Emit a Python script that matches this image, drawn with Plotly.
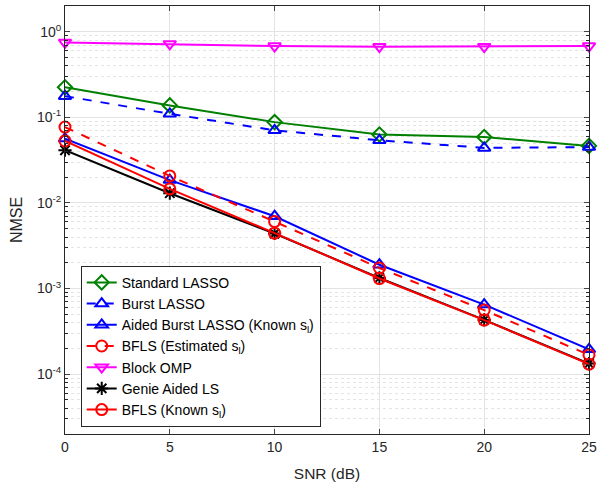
import plotly.graph_objects as go
import numpy as np

snr = [0, 5, 10, 15, 20, 25]

standard_lasso = [0.225, 0.138, 0.088, 0.063, 0.059, 0.0464]
burst_lasso = [0.177, 0.110, 0.0706, 0.054, 0.044, 0.045]
aided_burst_lasso = [0.0565, 0.0185, 0.0070, 0.0019, 0.00065, 0.000195]
bfls_estimated = [0.077, 0.0207, 0.00606, 0.00174, 0.00056, 0.000168]
block_omp = [0.75, 0.72, 0.68, 0.67, 0.67, 0.68]
genie_ls = [0.0413, 0.0130, 0.0044, 0.00133, 0.00043, 0.000133]
bfls_known = [0.053, 0.0146, 0.00444, 0.00131, 0.000428, 0.000131]

names = [
    "Standard LASSO",
    "Burst LASSO",
    "Aided Burst LASSO (Known s<sub>l</sub>)",
    "BFLS (Estimated s<sub>l</sub>)",
    "Block OMP",
    "Genie Aided LS",
    "BFLS (Known s<sub>l</sub>)",
]
series = [standard_lasso, burst_lasso, aided_burst_lasso, bfls_estimated,
          block_omp, genie_ls, bfls_known]
colors = ["#008000", "#0000ff", "#0000ff", "#ff0000", "#ff00ff", "#000000", "#ff0000"]
symbols = ["diamond-open", "triangle-up-open", "triangle-up-open", "circle-open",
           "triangle-down-open", "asterisk-open", "circle-open"]
dashes = ["solid", "dash", "solid", "dash", "solid", "solid", "solid"]

y_major = [1e-4, 1e-3, 1e-2, 1e-1, 1e0]
y_major_text = ["10<sup>-4</sup>", "10<sup>-3</sup>", "10<sup>-2</sup>",
                "10<sup>-1</sup>", "10<sup>0</sup>"]
x_ticks = [0, 5, 10, 15, 20, 25]

minor_vals = []
for e in range(-5, 1):
    for m in range(2, 10):
        v = m * 10.0 ** e
        if 2e-5 <= v <= 2:
            minor_vals.append(v)

fig = go.Figure()
for name, ys, c, s, d in zip(names, series, colors, symbols, dashes):
    fig.add_trace(go.Scatter(
        x=snr, y=ys, name=name, mode="lines+markers",
        line=dict(color=c, width=2, dash=d),
        marker=dict(symbol=s, size=11, color=c, line=dict(color=c, width=2)),
        cliponaxis=False,
    ))

axis_col = "#262626"
grid_col = "#e3e3e3"

fig.update_layout(
    width=602, height=485,
    margin=dict(l=65, r=5, t=5, b=50),
    paper_bgcolor="white", plot_bgcolor="white",
    font=dict(family="Liberation Sans, Arial, sans-serif", size=14, color=axis_col),
    showlegend=True,
    legend=dict(
        x=0.03, y=0.393, xanchor="left", yanchor="top",
        bgcolor="white", bordercolor=axis_col, borderwidth=1,
        font=dict(size=14, color="#000000"),
        tracegroupgap=0,
    ),
    xaxis=dict(
        range=[0, 25], tickvals=x_ticks, ticks="inside", ticklen=5,
        showline=True, linecolor=axis_col, linewidth=1, mirror="ticks",
        showgrid=True, gridcolor=grid_col, gridwidth=1, zeroline=False,
        title=dict(text="SNR (dB)", font=dict(size=15.5), standoff=14),
        tickfont=dict(size=14), ticklabeloverflow="allow",
    ),
    yaxis=dict(
        type="log", range=[np.log10(2e-5), np.log10(2)],
        tickvals=y_major, ticktext=y_major_text,
        ticks="inside", ticklen=5,
        showline=True, linecolor=axis_col, linewidth=1, mirror="ticks",
        showgrid=True, gridcolor=grid_col, gridwidth=1, zeroline=False,
        title=dict(text="NMSE", font=dict(size=16), standoff=10),
        tickfont=dict(size=14),
        minor=dict(tickmode="array", tickvals=minor_vals, ticks="inside", ticklen=3,
                   tickcolor=axis_col, showgrid=True, gridcolor="#e4e4e4",
                   griddash="dot", gridwidth=1),
    ),
)

fig.write_html("out.html")
